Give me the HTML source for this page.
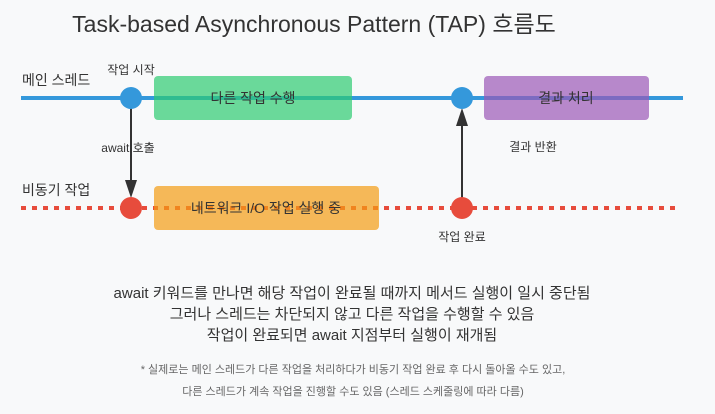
<!DOCTYPE html>
<html><head><meta charset="utf-8"><style>
html,body{margin:0;padding:0;background:#f8f9fa;}
svg{display:block;font-family:"Liberation Sans","Noto Sans CJK KR",sans-serif;}
</style></head><body>
<svg width="715" height="414" viewBox="0 0 715 414" xmlns="http://www.w3.org/2000/svg">
<rect width="715" height="414" fill="#f8f9fa"/>
<text x="314" y="32" font-size="23" text-anchor="middle" fill="#333">Task-based Asynchronous Pattern (TAP) 흐름도</text>

<text x="22" y="85" font-size="14" fill="#333">메인 스레드</text>
<text x="22" y="195" font-size="14" fill="#333">비동기 작업</text>

<line x1="21" y1="98" x2="683" y2="98" stroke="#3498db" stroke-width="4"/>
<line x1="21" y1="208" x2="680" y2="208" stroke="#e74c3c" stroke-width="4" stroke-dasharray="5,6"/>

<rect x="154" y="76" width="198" height="44" rx="4" fill="#2ecc71" fill-opacity="0.7"/>
<text x="253" y="103" font-size="14" text-anchor="middle" fill="#333">다른 작업 수행</text>

<rect x="484" y="76" width="165" height="44" rx="4" fill="#9b59b6" fill-opacity="0.7"/>
<text x="566" y="103" font-size="14" text-anchor="middle" fill="#333">결과 처리</text>

<rect x="154" y="186" width="225" height="44" rx="4" fill="#f39c12" fill-opacity="0.7"/>
<text x="266" y="213" font-size="14" text-anchor="middle" fill="#333">네트워크 I/O 작업 실행 중</text>

<line x1="131" y1="108" x2="131" y2="186" stroke="#333" stroke-width="2"/>
<polygon points="125,180 137,180 131,198" fill="#333"/>
<line x1="462" y1="200" x2="462" y2="122" stroke="#333" stroke-width="2"/>
<polygon points="456,126 468,126 462,108" fill="#333"/>

<circle cx="131" cy="98" r="11" fill="#3498db"/>
<circle cx="462" cy="98" r="11" fill="#3498db"/>
<circle cx="131" cy="208" r="11" fill="#e74c3c"/>
<circle cx="462" cy="208" r="11" fill="#e74c3c"/>

<text x="131" y="74" font-size="12" text-anchor="middle" fill="#333">작업 시작</text>
<text x="128" y="152" font-size="12" text-anchor="middle" fill="#333">await 호출</text>
<text x="533" y="151" font-size="12" text-anchor="middle" fill="#333">결과 반환</text>
<text x="462" y="241" font-size="12" text-anchor="middle" fill="#333">작업 완료</text>

<text x="352" y="298" font-size="15" text-anchor="middle" fill="#333">await 키워드를 만나면 해당 작업이 완료될 때까지 메서드 실행이 일시 중단됨</text>
<text x="352" y="319" font-size="15" text-anchor="middle" fill="#333">그러나 스레드는 차단되지 않고 다른 작업을 수행할 수 있음</text>
<text x="352" y="340" font-size="15" text-anchor="middle" fill="#333">작업이 완료되면 await 지점부터 실행이 재개됨</text>

<text x="353" y="373" font-size="11" text-anchor="middle" fill="#666">* 실제로는 메인 스레드가 다른 작업을 처리하다가 비동기 작업 완료 후 다시 돌아올 수도 있고,</text>
<text x="353" y="395" font-size="11" text-anchor="middle" fill="#666">다른 스레드가 계속 작업을 진행할 수도 있음 (스레드 스케줄링에 따라 다름)</text>
</svg>
</body></html>
